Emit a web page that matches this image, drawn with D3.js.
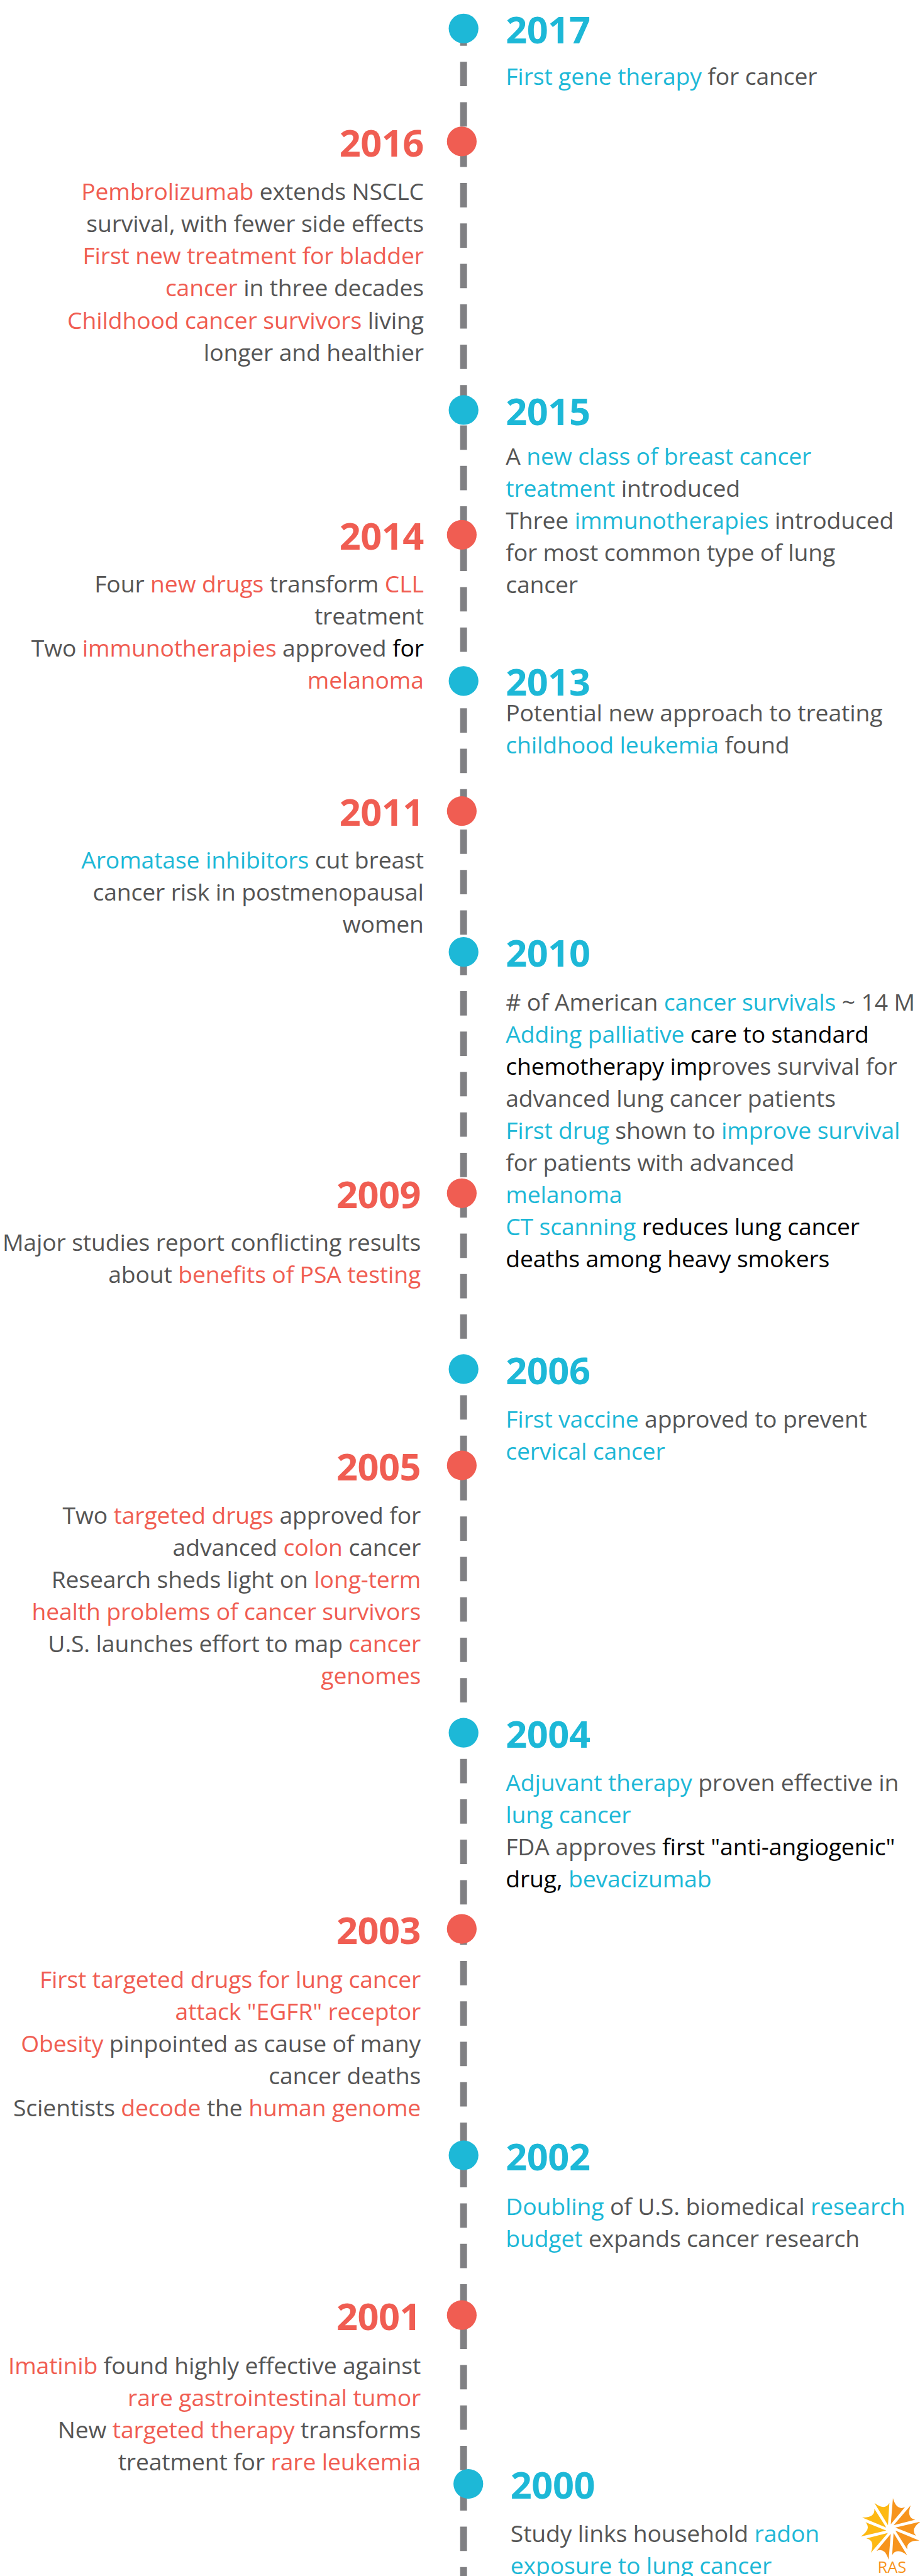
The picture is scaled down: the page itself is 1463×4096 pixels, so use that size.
<!DOCTYPE html>
<html lang="en">
<head>
<meta charset="UTF-8">
<title>Cancer research milestones</title>
<script src="https://cdn.jsdelivr.net/npm/d3@7"></script>
<style>
  body { margin: 0; background: #fff; }
  svg text { font-family: "Open Sans", sans-serif; white-space: pre; }
</style>
</head>
<body>
<script>
// Years on the timeline, top to bottom, and which side their notes sit on
const years = [2017, 2016, 2015, 2014, 2013, 2011, 2010, 2009, 2006, 2005, 2004, 2003, 2002, 2001, 2000];
const sides = ["right", "left", "right", "left", "right", "left", "right", "left",
               "right", "left", "right", "left", "right", "left", "right"];

// Notes: one array per year, one entry per line, each line = [text, tone]
// tones: b = blue, r = red, g = grey, k = black
const notes = [
  [[["First gene therapy", "b"], [" for cancer", "g"]]],
  [[["Pembrolizumab", "r"], [" extends NSCLC", "g"]],
   [["survival, with fewer side effects", "g"]],
   [["First new treatment for bladder", "r"]],
   [["cancer", "r"], [" in three decades", "g"]],
   [["Childhood cancer survivors", "r"], [" living", "g"]],
   [["longer and healthier", "g"]]],
  [[["A ", "g"], ["new class of breast cancer", "b"]],
   [["treatment", "b"], [" introduced", "g"]],
   [["Three ", "g"], ["immunotherapies", "b"], [" introduced", "g"]],
   [["for most common type of lung", "g"]],
   [["cancer", "g"]]],
  [[["Four ", "g"], ["new drugs", "r"], [" transform ", "g"], ["CLL", "r"]],
   [["treatment", "g"]],
   [["Two ", "g"], ["immunotherapies", "r"], [" approved ", "g"], ["for", "k"]],
   [["melanoma", "r"]]],
  [[["Potential new approach to treating", "g"]],
   [["childhood leukemia", "b"], [" found", "g"]]],
  [[["Aromatase inhibitors", "b"], [" cut breast", "g"]],
   [["cancer risk in postmenopausal", "g"]],
   [["women", "g"]]],
  [[["# of American ", "g"], ["cancer survivals", "b"], [" ~ 14 M", "g"]],
   [["Adding palliative", "b"], [" care to standard", "k"]],
   [["chemotherapy imp", "k"], ["roves survival for", "g"]],
   [["advanced lung cancer patients", "g"]],
   [["First drug", "b"], [" shown to ", "g"], ["improve survival", "b"]],
   [["for patients with advanced", "g"]],
   [["melanoma", "b"]],
   [["CT scanning", "b"], [" reduces lung cancer", "k"]],
   [["deaths among heavy smokers", "k"]]],
  [[["Major studies report conflicting results", "g"]],
   [["about ", "g"], ["benefits of PSA testing", "r"]]],
  [[["First vaccine", "b"], [" approved to prevent", "g"]],
   [["cervical cancer", "b"]]],
  [[["Two ", "g"], ["targeted drugs", "r"], [" approved for", "g"]],
   [["advanced ", "g"], ["colon", "r"], [" cancer", "g"]],
   [["Research sheds light on ", "g"], ["long-term", "r"]],
   [["health problems of cancer survivors", "r"]],
   [["U.S. launches effort to map ", "g"], ["cancer", "r"]],
   [["genomes", "r"]]],
  [[["Adjuvant therapy", "b"], [" proven effective in", "g"]],
   [["lung cancer", "b"]],
   [["FDA approves ", "g"], ["first \"anti-angiogenic\"", "k"]],
   [["drug, ", "k"], ["bevacizumab", "b"]]],
  [[["First targeted drugs for lung cancer", "r"]],
   [["attack \"EGFR\" receptor", "r"]],
   [["Obesity", "r"], [" pinpointed as cause of many", "g"]],
   [["cancer deaths", "g"]],
   [["Scientists ", "g"], ["decode", "r"], [" the ", "g"], ["human genome", "r"]]],
  [[["Doubling", "b"], [" of U.S. biomedical ", "g"], ["research", "b"]],
   [["budget", "b"], [" expands cancer research", "g"]]],
  [[["Imatinib", "r"], [" found highly effective against", "g"]],
   [["rare gastrointestinal tumor", "r"]],
   [["New ", "g"], ["targeted therapy", "r"], [" transforms", "g"]],
   [["treatment for ", "g"], ["rare leukemia", "r"]]],
  [[["Study links household ", "g"], ["radon", "b"]],
   [["exposure to lung cancer", "b"]]]
];

// Hand layout of the original (reference pixels):
// centre of each year's dot, and baseline of the first note line
const dotY  = [48, 238, 690, 900, 1146, 1365, 1602, 2008, 2304, 2466, 2916, 3246, 3627, 3896, 4180];
const noteY = [143, 337, 782, 997, 1214, 1462, 1701, 2105, 2402, 2564, 3014, 3345, 3728, 3995, 4278];

const W = 1548, H = 4335;
const lineX = 780;
const lineGap = 54;
const tones = { b: "#1db8d7", r: "#f05d52", g: "#555555", k: "#000000" };

const svg = d3.select("body").append("svg")
    .attr("width", 1463)
    .attr("height", 4096)
    .attr("viewBox", [0, 0, W, H]);

const y = d3.scaleLinear().domain([0, H]).range([0, H]);

// dashed spine
svg.append("line")
    .attr("x1", lineX).attr("x2", lineX)
    .attr("y1", y(36)).attr("y2", y(H))
    .attr("stroke", "#808083")
    .attr("stroke-width", 11.5)
    .attr("stroke-dasharray", "41 27");

const events = years.map((yr, i) => ({
  year: yr, side: sides[i], lines: notes[i], cy: dotY[i], ty: noteY[i]
}));

const ev = svg.selectAll("g.event")
  .data(events)
  .join("g")
    .attr("class", "event")
    // the last entry sits a little right of the spine in the original
    .attr("transform", d => `translate(${d.year === 2000 ? 8 : 0},0)`);

ev.append("circle")
    .attr("cx", d => d.side === "left" ? lineX - 3 : lineX)
    .attr("cy", d => y(d.cy))
    .attr("r", 25)
    .attr("fill", d => d.side === "left" ? tones.r : tones.b);

// left column edge drifts in a few px lower down in the original
const textX = d => d.side === "left" ? (d.year >= 2011 ? 713 : 708) : 851;
const anchor = d => d.side === "left" ? "end" : "start";

ev.append("text")
    .attr("x", textX)
    .attr("y", d => y(d.cy + 25))
    .attr("text-anchor", anchor)
    .attr("font-size", 63)
    .attr("font-weight", 700)
    .attr("letter-spacing", -0.5)
    .attr("fill", d => d.side === "left" ? tones.r : tones.b)
    .text(d => d.year);

ev.each(function(d) {
  const g = d3.select(this);
  g.selectAll("text.note")
    .data(d.lines)
    .join("text")
      .attr("class", "note")
      .attr("x", textX(d))
      .attr("y", (l, j) => y(d.ty + j * lineGap))
      .attr("text-anchor", anchor(d))
      .attr("font-size", 39.5)
      .attr("letter-spacing", -0.15)
    .selectAll("tspan")
    .data(l => l)
    .join("tspan")
      .attr("fill", s => tones[s[1]])
      .text(s => s[0]);
});

// RAS logo, bottom right
const sun = svg.append("g").attr("transform", "translate(1499,4256)");
const blades = d3.range(10);
const rad = a => a * Math.PI / 180;
sun.selectAll("path")
  .data(blades)
  .join("path")
    .attr("d", i => {
      const a = i * 36 - 90;
      const p = (r, t) => [r * Math.cos(rad(t)), r * Math.sin(rad(t))];
      const p0 = p(8, a), p1 = p(52, a + 4), p2 = p(44, a + 33), c = p(32, a + 18);
      return `M${p0}L${p1}Q${c} ${p2}Z`;
    })
    .attr("fill", i => {
      const a = ((i * 36 - 90) + 360) % 360;
      return (a > 260 || a < 110) ? "#f7941d" : "#fdb913";
    });

svg.append("text")
    .attr("x", 1501)
    .attr("y", 4330)
    .attr("text-anchor", "middle")
    .attr("font-size", 27)
    .attr("fill", "#f7941d")
    .text("RAS");
</script>
</body>
</html>
